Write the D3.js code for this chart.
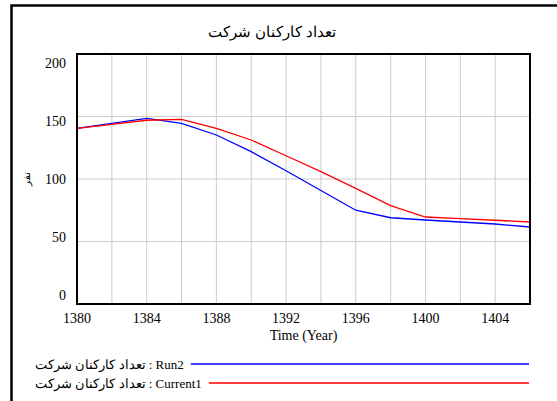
<!DOCTYPE html>
<meta charset="utf-8">
<script src="https://d3js.org/d3.v7.min.js"></script>
<body style="margin:0; background:white">
<div id="chart"></div>
<script>
// ---- data ----
const years = [1380, 1382, 1384, 1386, 1388, 1390, 1392, 1394, 1396, 1398, 1400, 1402, 1404, 1406];
const run2 = [140.5, 144.5, 148.5, 144.5, 135.2, 121.9, 106.6, 90.8, 75, 69, 67.2, 65.6, 64, 61.6];
const current1 = [140.5, 143.7, 147, 147.7, 140.5, 131.2, 118.6, 105.9, 92.5, 78.7, 69.6, 68.3, 67, 65.6];
const xTicks = [1380, 1384, 1388, 1392, 1396, 1400, 1404];
const xGrid = [1382, 1384, 1386, 1388, 1390, 1392, 1394, 1396, 1398, 1400, 1402, 1404];
const yTicks = [0, 50, 100, 150, 200];
const yGrid = [50, 100, 150];
const seriesNames = ["تعداد کارکنان شرکت : Run2", "تعداد کارکنان شرکت : Current1"];
const seriesColors = ["#0000ff", "#ff0000"];

const serif = '"Liberation Serif", "Times New Roman", serif';
const sans = '"Liberation Sans", Arial, sans-serif';

const width = 557, height = 401;
const plot = {left: 77, right: 530, top: 54, bottom: 304};

const svg = d3.select("#chart").append("svg")
  .attr("width", width)
  .attr("height", height);

// outer frame (runs off the right and bottom edge)
svg.append("rect")
  .attr("x", 11.5).attr("y", 5.5)
  .attr("width", 700).attr("height", 600)
  .attr("fill", "none")
  .attr("stroke", "#000")
  .attr("stroke-width", 2.5);

const x = d3.scaleLinear().domain([1380, 1406]).range([plot.left, plot.right]);
const y = d3.scaleLinear().domain([0, 200]).range([plot.bottom, plot.top]);
// vensim style: tick labels are squeezed a little inside the axis
const yLabel = d3.scaleLinear().domain([0, 200]).range([295, 63.5]);

// grid
const grid = svg.append("g");
grid.selectAll(".v").data(xGrid).enter().append("line")
  .attr("x1", d => x(d)).attr("x2", d => x(d))
  .attr("y1", plot.top).attr("y2", plot.bottom)
  .attr("stroke", "#cccccc");
grid.selectAll(".h").data(yGrid).enter().append("line")
  .attr("x1", plot.left).attr("x2", plot.right)
  .attr("y1", d => y(d)).attr("y2", d => y(d))
  .attr("stroke", "#cccccc");

// series
const line = d3.line().x((d, i) => x(years[i])).y(d => y(d));
[run2, current1].forEach((s, k) => {
  svg.append("path")
    .datum(s)
    .attr("d", line)
    .attr("fill", "none")
    .attr("stroke", seriesColors[k])
    .attr("stroke-width", 1.3);
});

// plot border
svg.append("rect")
  .attr("x", plot.left).attr("y", plot.top)
  .attr("width", plot.right - plot.left).attr("height", plot.bottom - plot.top)
  .attr("fill", "none")
  .attr("stroke", "#000")
  .attr("stroke-width", 2);

// tick labels
svg.selectAll(".xl").data(xTicks).enter().append("text")
  .attr("x", d => x(d))
  .attr("y", 322.5)
  .attr("text-anchor", "middle")
  .style("font-family", serif)
  .style("font-size", "14px")
  .text(d => d);

svg.selectAll(".yl").data(yTicks).enter().append("text")
  .attr("x", 66)
  .attr("y", d => yLabel(d))
  .attr("dy", "0.35em")
  .attr("text-anchor", "end")
  .style("font-family", serif)
  .style("font-size", "14px")
  .text(d => d);

// titles
svg.append("text")
  .attr("x", 272).attr("y", 37)
  .attr("text-anchor", "middle")
  .style("font-family", sans)
  .style("font-size", "15px")
  .text("تعداد کارکنان شرکت");

svg.append("text")
  .attr("x", (plot.left + plot.right) / 2).attr("y", 340)
  .attr("text-anchor", "middle")
  .style("font-family", serif)
  .style("font-size", "14px")
  .text("Time (Year)");

svg.append("text")
  .attr("transform", "translate(30,179) rotate(-90)")
  .attr("text-anchor", "middle")
  .style("font-family", sans)
  .style("font-size", "10px")
  .text("نفر");

// legend
seriesNames.forEach((name, k) => {
  const ly = 364 + k * 19;
  const t = svg.append("text")
    .attr("x", 35).attr("y", ly)
    .attr("dy", "0.35em")
    .style("font-family", serif)
    .style("font-size", "13px")
    .text(name);
  const bb = t.node().getBBox();
  svg.append("line")
    .attr("x1", bb.x + bb.width + 7).attr("x2", plot.right - 1)
    .attr("y1", ly).attr("y2", ly)
    .attr("stroke", seriesColors[k])
    .attr("stroke-width", 1.5);
});
</script>
</body>
